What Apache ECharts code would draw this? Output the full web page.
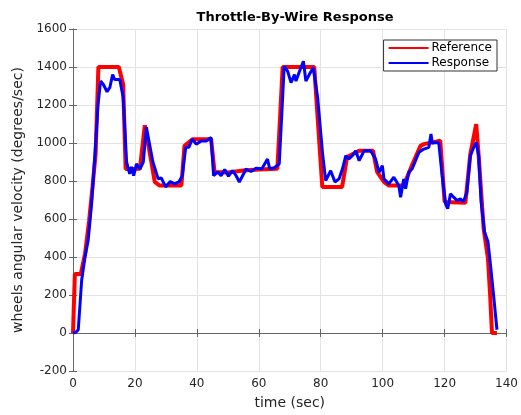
<!DOCTYPE html>
<html><head><meta charset="utf-8">
<script src="https://cdn.jsdelivr.net/npm/echarts@6/dist/echarts.min.js"></script>
<style>html,body{margin:0;padding:0;background:#fff}#c{width:521px;height:415px}</style>
</head><body><div id="c"></div>
<script>
const titleText = 'Throttle-By-Wire Response';
const xName = 'time (sec)';
const yName = 'wheels angular velocity (degrees/sec)';
const seriesNames = ['Reference', 'Response'];
const xTicks = [0, 20, 40, 60, 80, 100, 120, 140];
const yTicks = [-200, 0, 200, 400, 600, 800, 1000, 1200, 1400, 1600];

const refT = [0, 0.4, 0.6, 2.5, 3.9, 5.2, 6.3, 7.3, 8.2, 14.8, 16.2, 17.0, 21.6, 23.2, 25.3, 26.4, 28.0, 35.0, 36.0, 38.6, 44.6, 45.7, 50, 55, 60, 66.0, 67.7, 77.9, 80.5, 86.9, 88.5, 92.4, 96.9, 98.2, 100.4, 102, 106.8, 109.4, 112.2, 113.3, 118.6, 120.0, 126.7, 128.3, 130.2, 131.0, 132.6, 134.0, 134.7, 135.3, 136.9];
const refV = [0, 0, 310, 310, 418, 590, 769, 942, 1400, 1400, 1308, 863, 865, 1093, 900, 795, 776, 776, 985, 1020, 1020, 848, 845, 855, 860, 865, 1400, 1400, 769, 769, 926, 959, 959, 848, 795, 776, 776, 880, 985, 994, 1012, 690, 685, 942, 1099, 933, 549, 392, 200, 0, 0];

const resT = [0, 1.0, 1.7, 2.8, 3.9, 4.9, 6.0, 7.1, 8.1, 8.9, 9.8, 10.4, 11.0, 11.9, 12.8, 13.5, 15.1, 16.2, 17.3, 18.3, 18.9, 19.6, 20.5, 21.6, 22.7, 23.7, 24.6, 25.8, 27.5, 28.5, 29.9, 31.4, 32.8, 34.2, 35.3, 36.4, 37.4, 38.5, 39.8, 41.4, 43.0, 44.6, 45.4, 46.8, 47.8, 49.0, 50.2, 51.5, 52.6, 53.7, 55.9, 57.5, 59.1, 61.0, 62.8, 63.5, 65.0, 66.6, 68.2, 69.3, 70.4, 71.5, 72.0, 73.0, 74.4, 75.2, 76.3, 77.6, 79.0, 80.6, 81.6, 83.2, 84.6, 85.9, 87.0, 88.1, 89.1, 90.2, 91.3, 92.4, 94.0, 96.1, 97.7, 98.8, 99.9, 100.4, 102.0, 103.6, 105.2, 105.8, 106.8, 107.4, 108.4, 109.5, 110.6, 111.7, 113.3, 114.9, 115.6, 116.0, 118.1, 119.2, 120.3, 121.0, 121.9, 122.9, 124.0, 125.1, 126.1, 127.2, 128.3, 129.4, 130.2, 131.0, 131.8, 132.9, 134.0, 134.7, 135.8, 136.9];
const resV = [0, 5, 17, 279, 402, 488, 680, 942, 1204, 1326, 1308, 1300, 1270, 1292, 1360, 1334, 1334, 1240, 900, 837, 874, 828, 890, 863, 900, 1083, 1004, 900, 811, 816, 769, 797, 785, 795, 828, 977, 977, 1020, 994, 1011, 1011, 1029, 828, 848, 828, 860, 825, 855, 830, 795, 863, 850, 867, 865, 916, 865, 870, 890, 1404, 1378, 1318, 1360, 1326, 1371, 1430, 1326, 1360, 1397, 1240, 942, 802, 854, 795, 811, 863, 933, 916, 933, 959, 907, 959, 959, 916, 846, 881, 811, 785, 820, 776, 715, 811, 759, 846, 863, 907, 951, 968, 977, 1047, 1000, 1003, 828, 680, 654, 733, 715, 698, 706, 692, 741, 933, 977, 1003, 933, 689, 532, 480, 375, 200, 17];

const zip = (a, b) => a.map((v, i) => [v, b[i]]);
const FONT = 'DejaVu Sans';
const axisCol = '#666';
const gridCol = '#e3e3e3';
const xMin = xTicks[0], xMax = xTicks[xTicks.length - 1], xInt = xTicks[1] - xTicks[0];
const yMin = yTicks[0], yMax = yTicks[yTicks.length - 1], yInt = yTicks[1] - yTicks[0];

const chart = echarts.init(document.getElementById('c'), null, {renderer: 'canvas'});
const baseX = {type: 'value', min: xMin, max: xMax, interval: xInt};
const baseY = {type: 'value', min: yMin, max: yMax, interval: yInt};
chart.setOption({
  animation: false,
  backgroundColor: '#fff',
  title: {
    text: titleText, left: 290, top: 6, textAlign: 'center',
    textStyle: {fontFamily: FONT, fontSize: 13, fontWeight: 'bold', color: '#000'}
  },
  grid: {left: 73, right: 13, top: 29, bottom: 42, containLabel: false},
  legend: {
    orient: 'vertical', right: 24, top: 40,
    data: seriesNames,
    itemWidth: 40, itemHeight: 12, itemGap: 3,
    itemStyle: {opacity: 0},
    borderColor: '#333', borderWidth: 1, backgroundColor: '#fff',
    padding: [2, 5, 2, 4],
    textStyle: {fontFamily: FONT, fontSize: 12, color: '#000', padding: [0, 0, 0, -2]}
  },
  xAxis: [
    Object.assign({}, baseX, {
      position: 'bottom',
      name: xName, nameLocation: 'middle', nameGap: 25,
      nameTextStyle: {fontFamily: FONT, fontSize: 14, color: '#262626'},
      axisLine: {show: true, lineStyle: {color: axisCol, width: 1}},
      axisTick: {show: true, inside: true, length: 4, lineStyle: {color: axisCol}},
      axisLabel: {fontFamily: FONT, fontSize: 12, color: '#262626', margin: 7},
      splitLine: {show: true, lineStyle: {color: gridCol, width: 1}}
    }),
    Object.assign({}, baseX, {
      position: 'top',
      axisLine: {show: true, lineStyle: {color: axisCol, width: 1}},
      axisTick: {show: true, inside: true, length: 4, lineStyle: {color: axisCol}},
      axisLabel: {show: false}, splitLine: {show: false}
    })
  ],
  yAxis: [
    Object.assign({}, baseY, {
      position: 'left',
      name: yName, nameLocation: 'middle', nameGap: 36,
      nameTextStyle: {fontFamily: FONT, fontSize: 14, color: '#262626'},
      axisLine: {show: true, lineStyle: {color: axisCol, width: 1}},
      axisTick: {show: true, inside: true, length: 4, lineStyle: {color: axisCol}},
      axisLabel: {fontFamily: FONT, fontSize: 12, color: '#262626', margin: 6,
        formatter: v => String(v)},
      splitLine: {show: true, lineStyle: {color: gridCol, width: 1}}
    }),
    Object.assign({}, baseY, {
      position: 'right',
      axisLine: {show: true, lineStyle: {color: axisCol, width: 1}},
      axisTick: {show: true, inside: true, length: 4, lineStyle: {color: axisCol}},
      axisLabel: {show: false}, splitLine: {show: false}
    })
  ],
  series: [
    {
      name: seriesNames[0], type: 'line', data: zip(refT, refV),
      showSymbol: false, symbol: 'none', color: '#ff0000',
      lineStyle: {color: '#ff0000', width: 4}, z: 2
    },
    {
      name: seriesNames[1], type: 'line', data: zip(resT, resV),
      showSymbol: false, symbol: 'none', color: '#0000ff',
      lineStyle: {color: '#0000ff', width: 3}, z: 3
    }
  ]
});
</script></body></html>
